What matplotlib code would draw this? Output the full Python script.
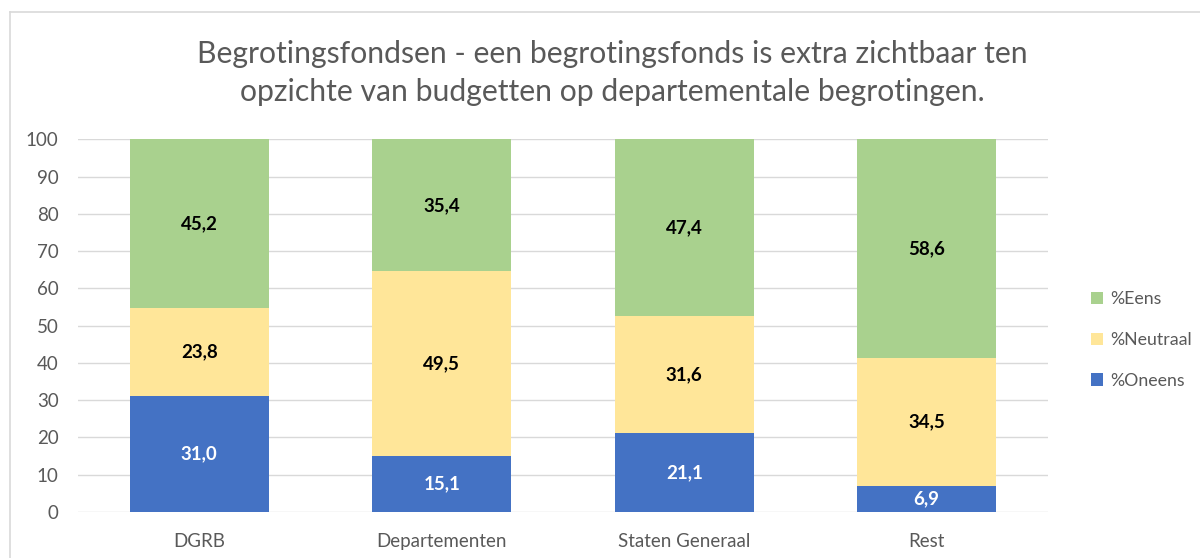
import matplotlib
matplotlib.use("Agg")
import matplotlib.pyplot as plt
from matplotlib.lines import Line2D
import numpy as np

plt.rcParams['font.family'] = ['Lato', 'DejaVu Sans']

categories = ["DGRB", "Departementen", "Staten Generaal", "Rest"]
oneens = [31.0, 15.1, 21.1, 6.9]
neutraal = [23.8, 49.5, 31.6, 34.5]
eens = [45.2, 35.4, 47.4, 58.6]
series_names = ["%Oneens", "%Neutraal", "%Eens"]
colors = ["#4472C4", "#FFE699", "#A9D18E"]
label_colors = ["white", "black", "black"]
title = "Begrotingsfondsen - een begrotingsfonds is extra zichtbaar ten\nopzichte van budgetten op departementale begrotingen."

fig = plt.figure(figsize=(12, 5.58), dpi=100)
ax = fig.add_axes([78/1200, 46/558, 970/1200, (512-139.3)/558])

x = np.arange(len(categories))
bottom = np.zeros(len(categories))
handles = []
for vals, name, col, lc in zip([oneens, neutraal, eens], series_names, colors, label_colors):
    bars = ax.bar(x, vals, 0.573, bottom=bottom, color=col, label=name, zorder=2)
    for xi, b, v in zip(x, bottom, vals):
        ax.text(xi, b + v / 2, f"{v:.1f}".replace(".", ","), ha="center", va="center",
                color=lc, fontsize=13.5, fontweight="bold", zorder=3)
    bottom += np.array(vals)
    handles.append(bars)

ax.set_xlim(-0.5, len(categories) - 0.5)
ax.set_ylim(0, 100)
ax.set_yticks(range(0, 101, 10))
ax.set_xticks(x)
ax.set_xticklabels(categories)
ax.tick_params(axis="both", length=0, labelsize=13.5, colors="#595959")
ax.tick_params(axis="y", pad=14)
ax.tick_params(axis="x", pad=15)
ax.grid(axis="y", color="#D9D9D9", linewidth=1, zorder=0)
for s in ax.spines.values():
    s.set_visible(False)

fig.text(612/1200, 1 - 73/558, title, ha="center", va="center", fontsize=21.7,
         color="#595959", linespacing=1.4)

leg = fig.legend(handles=[handles[2], handles[1], handles[0]],
                 labels=["%Eens", "%Neutraal", "%Oneens"],
                 loc="center left", bbox_to_anchor=(1075/1200, 1 - 340/558),
                 frameon=False, fontsize=12.8, handlelength=0.7, handleheight=0.7,
                 handletextpad=0.4, labelspacing=1.4, labelcolor="#595959")

fig.add_artist(Line2D([10/1200, 1], [1 - 12/558, 1 - 12/558], color="#D9D9D9", lw=1.2,
                      transform=fig.transFigure))
fig.add_artist(Line2D([10/1200, 10/1200], [0, 1 - 12/558], color="#D9D9D9", lw=1.2,
                      transform=fig.transFigure))

fig.savefig("out.png", dpi=100)
